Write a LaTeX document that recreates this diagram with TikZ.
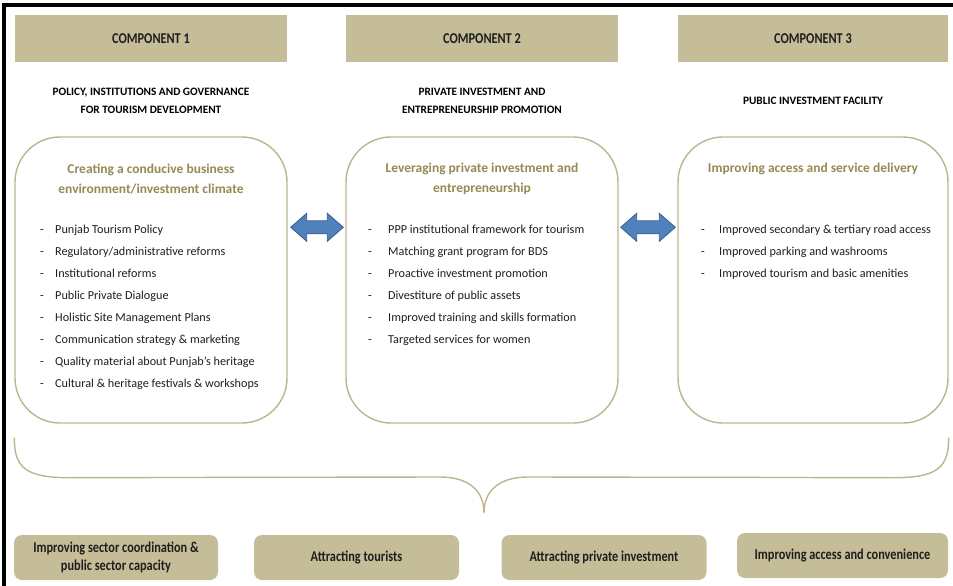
\documentclass[tikz,border=0pt]{standalone}
\usepackage{fontspec}
\setmainfont{Carlito}
\newfontfamily\condfont{Carlito}[FakeStretch=0.82]
\usetikzlibrary{calc}
\definecolor{tanfill}{HTML}{C4BD97}
\definecolor{tanline}{HTML}{BDB58E}
\definecolor{olivetext}{HTML}{948A54}
\definecolor{arrowblue}{HTML}{4F81BD}
\definecolor{arrowedge}{HTML}{385D8A}
\definecolor{ink}{HTML}{1E1E1E}
\begin{document}
\begin{tikzpicture}[x=1pt,y=-1pt,
  comphead/.style={fill=tanfill, draw=none, inner sep=0pt, text=ink,
    font=\condfont\bfseries\fontsize{15}{18}\selectfont},
  heading/.style={align=center, inner sep=0pt, text=black,
    font=\bfseries\fontsize{11.3}{18}\selectfont},
  panel/.style={draw=tanline, line width=1.4pt, rounded corners=45pt, inner sep=0pt},
  paneltitle/.style={align=center, inner sep=0pt, text=olivetext,
    font=\bfseries\fontsize{13.5}{20}\selectfont},
  listitem/.style={anchor=base west, inner sep=0pt, text=ink,
    font=\fontsize{12.2}{14}\selectfont},
  dblarrow/.style={fill=arrowblue, draw=arrowedge, line width=0.8pt, line join=miter},
  brace/.style={draw=tanline, line width=1.4pt},
  outcome/.style={fill=tanfill, draw=none, rounded corners=8pt, inner sep=0pt,
    align=center, text=ink, font=\condfont\bfseries\fontsize{15}{18}\selectfont}
]
\useasboundingbox (0,0) rectangle (953,586);

% frame lines along the top and left edges
\draw[line width=4pt, line join=miter] (4,586) -- (4,5) -- (953,5);

% component headers
\node[comphead, minimum width=272, minimum height=47] (c1) at (151,38.5) {COMPONENT 1};
\node[comphead, minimum width=272, minimum height=47] (c2) at (482,38.5) {COMPONENT 2};
\node[comphead, minimum width=270, minimum height=47] (c3) at (813,38.5) {COMPONENT 3};

% component subtitles
\node[heading] (h1) at (151,101) {POLICY, INSTITUTIONS AND GOVERNANCE\\FOR TOURISM DEVELOPMENT};
\node[heading] (h2) at (482,101) {PRIVATE INVESTMENT AND\\ENTREPRENEURSHIP PROMOTION};
\node[heading] (h3) at (813,101) {PUBLIC INVESTMENT FACILITY};

% rounded panels
\node[panel, minimum width=272, minimum height=286] (p1) at (151,280) {};
\node[panel, minimum width=272, minimum height=286] (p2) at (482,280) {};
\node[panel, minimum width=270, minimum height=286] (p3) at (813,280) {};

% panel titles
\node[paneltitle] (t1) at (151,179) {Creating a conducive business\\environment/investment climate};
\node[paneltitle] (t2) at (482,179) {Leveraging private investment and\\entrepreneurship};
\node[paneltitle] (t3) at (813,169) {Improving access and service delivery};

% activity lists
\foreach \txt [count=\i] in {Punjab Tourism Policy, Regulatory/administrative reforms,
  Institutional reforms, Public Private Dialogue, Holistic Site Management Plans,
  Communication strategy \& marketing, Quality material about Punjab’s heritage,
  Cultural \& heritage festivals \& workshops}
  \node[listitem] (la\i) at (40,{233+22.1*(\i-1)}) {\makebox[15pt][l]{-}\txt};

\foreach \txt [count=\i] in {PPP institutional framework for tourism,
  Matching grant program for BDS, Proactive investment promotion,
  Divestiture of public assets, Improved training and skills formation,
  Targeted services for women}
  \node[listitem] (lb\i) at (368,{233+22.1*(\i-1)}) {\makebox[20pt][l]{-}\txt};

\foreach \txt [count=\i] in {Improved secondary \& tertiary road access,
  Improved parking and washrooms, Improved tourism and basic amenities}
  \node[listitem] (lc\i) at (701,{233+22.1*(\i-1)}) {\makebox[18pt][l]{-}\txt};

% double arrows between panels
\coordinate (a1l) at ($(p1.north east)+(3,91)$);
\coordinate (a1r) at ($(p2.north west)+(-2,91)$);
\coordinate (a2l) at ($(p2.north east)+(2,91)$);
\coordinate (a2r) at ($(p3.north west)+(-2,91)$);
\foreach \s/\e in {a1l/a1r, a2l/a2r}
  \path[dblarrow] let \p1=(\s), \p2=(\e) in
    (\x1,\y1) -- (\x1+16pt,\y1+14pt) -- (\x1+16pt,\y1+6.5pt) -- (\x2-16pt,\y1+6.5pt)
    -- (\x2-16pt,\y1+14pt) -- (\x2,\y1) -- (\x2-16pt,\y1-14pt) -- (\x2-16pt,\y1-6.5pt)
    -- (\x1+16pt,\y1-6.5pt) -- (\x1+16pt,\y1-14pt) -- cycle;

% brace gathering the three components
\coordinate (bl) at ($(p1.south west)+(0,14)$);
\coordinate (br) at ($(p3.south east)+(0,14)$);
\coordinate (bt) at (484,513);
\draw[brace] (bl) .. controls +(0,29) and +(-45,0) .. ($(bl)+(55,40)$)
  -- ($(bt)+(-44,-36)$) .. controls +(28,0) and +(0,-23) .. (bt)
  .. controls +(0,-23) and +(-28,0) .. ($(bt)+(44,-36)$)
  -- ($(br)+(-55,40)$) .. controls +(45,0) and +(0,29) .. (br);

% outcomes
\node[outcome, minimum width=204, minimum height=45] (o1) at (116,557.5) {Improving sector coordination \&\\public sector capacity};
\node[outcome, minimum width=205, minimum height=45] (o2) at (356.5,557.5) {Attracting tourists};
\node[outcome, minimum width=205, minimum height=45] (o3) at (604,557.5) {Attracting private investment};
\node[outcome, minimum width=211, minimum height=45] (o4) at (842.5,555.5) {Improving access and convenience};
\end{tikzpicture}
\end{document}
